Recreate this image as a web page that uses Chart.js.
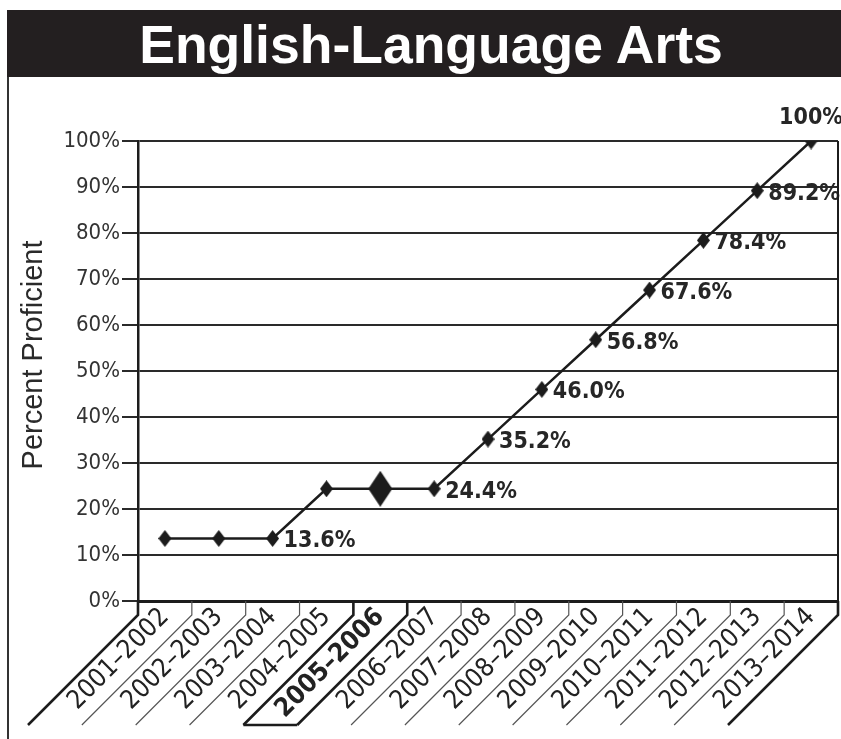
<!DOCTYPE html>
<html><head><meta charset="utf-8">
<script src="https://cdn.jsdelivr.net/npm/chart.js@4.4.1/dist/chart.umd.min.js"></script>
<style>
html,body{margin:0;padding:0;background:#fff;}
#wrap{position:relative;width:841px;height:739px;overflow:hidden;}
#bar{position:absolute;left:7px;top:10px;width:834px;height:67px;background:#231f20;color:#fff;font:bold 53.5px "Liberation Sans",Arial,sans-serif;line-height:69px;text-align:center;padding-left:14px;box-sizing:border-box;white-space:nowrap;}
#frame{position:absolute;left:7px;top:77px;width:2px;height:662px;background:#333;}
canvas{position:absolute;left:0;top:0;}
</style></head>
<body><div id="wrap"><canvas id="c" width="841" height="739"></canvas><div id="bar">English-Language Arts</div><div id="frame"></div></div>
<script>
const years = ['2001–2002','2002–2003','2003–2004','2004–2005','2005–2006','2006–2007','2007–2008','2008–2009','2009–2010','2010–2011','2011–2012','2012–2013','2013–2014'];
const proficient = [13.6,13.6,13.6,24.4,24.4,24.4,35.2,46.0,56.8,67.6,78.4,89.2,100];
const pointLabels = ['','','13.6%','','','24.4%','35.2%','46.0%','56.8%','67.6%','78.4%','89.2%','100%'];
const yTicks = [0,10,20,30,40,50,60,70,80,90,100];
const highlightYear = '2005–2006';
const axisTitle = 'Percent Proficient';

const NARROW = '"DejaVu Sans Condensed","Liberation Sans Narrow",sans-serif';
const INK = '#1c1c1c';

function diamond(w,h){
  const c=document.createElement('canvas'); c.width=w; c.height=h;
  const g=c.getContext('2d'); g.fillStyle=INK;
  g.beginPath(); g.moveTo(w/2,0); g.lineTo(w,h/2); g.lineTo(w/2,h); g.lineTo(0,h/2); g.closePath(); g.fill();
  return c;
}
const smallD = diamond(13,17), bigD = diamond(24,36);

const decor = {
  id:'decor',
  afterDraw(chart){
    const ctx=chart.ctx, x=chart.scales.x, a=chart.chartArea;
    ctx.save();
    ctx.strokeStyle=INK; ctx.lineWidth=2;
    ctx.beginPath(); ctx.moveTo(a.right,a.top); ctx.lineTo(a.right,a.bottom); ctx.stroke();
    const n=years.length, hl=years.indexOf(highlightYear);
    const half=(x.getPixelForValue(1)-x.getPixelForValue(0))/2;
    const yBend=a.bottom+14, yEnd=725, run=yEnd-yBend;
    for(let i=0;i<=n;i++){
      const xb = i<n ? x.getPixelForValue(i)-half : x.getPixelForValue(n-1)+half;
      const thick = (i===0||i===n||i===hl||i===hl+1);
      ctx.strokeStyle = thick?INK:'#555'; ctx.lineWidth = thick?2.6:1.2;
      ctx.beginPath(); ctx.moveTo(xb,a.bottom); ctx.lineTo(xb,yBend); ctx.lineTo(xb-run,yEnd); ctx.stroke();
    }
    if(hl>=0){
      const x1=x.getPixelForValue(hl)-half-run, x2=x.getPixelForValue(hl)+half-run;
      ctx.strokeStyle=INK; ctx.lineWidth=2.6;
      ctx.beginPath(); ctx.moveTo(x1,yEnd); ctx.lineTo(x2,yEnd); ctx.stroke();
    }
    ctx.fillStyle='#2a2a2a'; ctx.font='29px "Liberation Sans",Arial,sans-serif';
    ctx.textAlign='center'; ctx.textBaseline='middle';
    ctx.translate(34,355); ctx.rotate(-Math.PI/2); ctx.fillText(axisTitle,0,0);
    ctx.restore();
  },
  afterDatasetsDraw(chart){
    const ctx=chart.ctx, meta=chart.getDatasetMeta(0);
    ctx.save();
    ctx.fillStyle='#262626'; ctx.font='bold 23px '+NARROW;
    meta.data.forEach((pt,i)=>{
      const t=pointLabels[i]; if(!t) return;
      if(i===meta.data.length-1){ ctx.textAlign='center'; ctx.textBaseline='bottom'; ctx.fillText(t,pt.x,pt.y-11); }
      else { ctx.textAlign='left'; ctx.textBaseline='middle'; ctx.fillText(t,pt.x+11,pt.y+3); }
    });
    ctx.restore();
  }
};

new Chart(document.getElementById('c'),{
  type:'line',
  data:{labels:years,datasets:[{
    data:proficient,
    borderColor:INK,borderWidth:2.5,tension:0,fill:false,
    pointStyle:c=>years[c.dataIndex]===highlightYear?bigD:smallD,
    pointRadius:8
  }]},
  options:{
    responsive:false,animation:false,
    layout:{autoPadding:false,padding:{top:141,left:10,right:3,bottom:0}},
    plugins:{legend:{display:false},tooltip:{enabled:false},title:{display:false}},
    scales:{
      x:{
        offset:true,
        ticks:{minRotation:45,maxRotation:45,autoSkip:false,padding:1,color:'#222',
          font:c=>({family:NARROW,size:26,weight:years[c.index]===highlightYear?'bold':'normal'})},
        grid:{display:true,drawOnChartArea:false,drawTicks:false},
        border:{display:true,color:INK,width:3},
        afterFit:s=>{s.height=138;s.paddingLeft=0;s.paddingRight=0;}
      },
      y:{
        min:0,max:100,
        afterBuildTicks:s=>{s.ticks=yTicks.map(v=>({value:v}));},
        ticks:{callback:v=>v+'%',color:'#333',padding:2,font:{family:NARROW,size:22}},
        grid:{color:'#2a2a2a',lineWidth:2,tickLength:16,drawTicks:true},
        border:{display:true,color:INK,width:2.5},
        afterFit:s=>{s.width=128;}
      }
    }
  },
  plugins:[decor]
});
</script>
</body></html>
